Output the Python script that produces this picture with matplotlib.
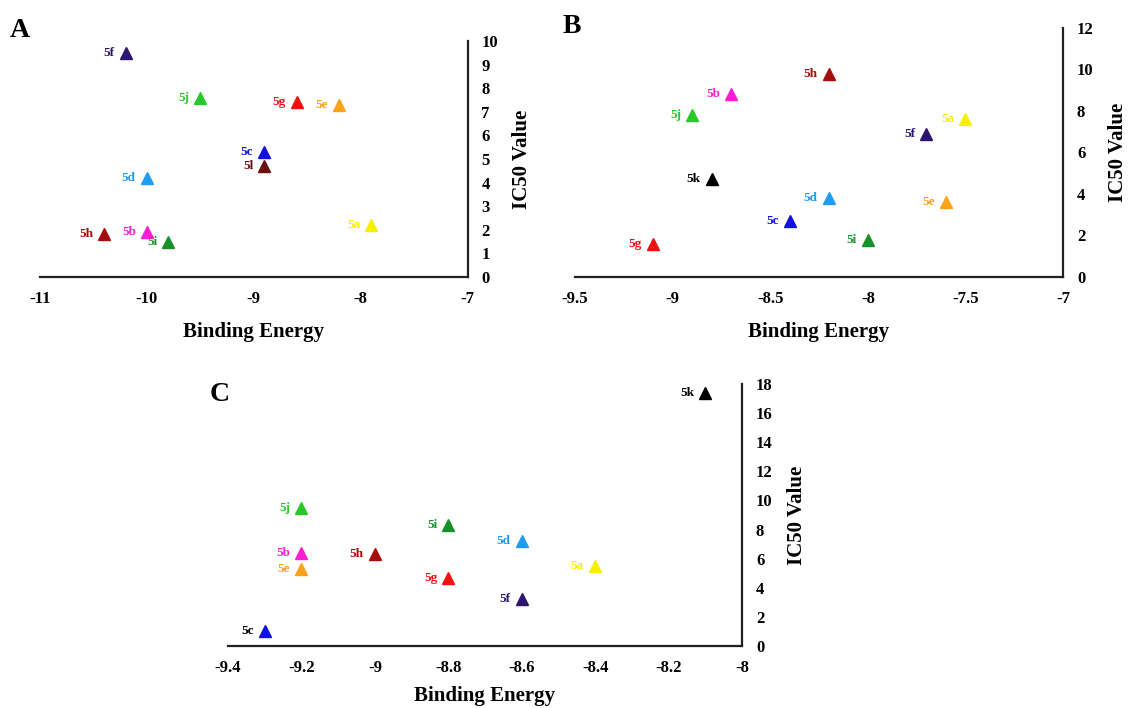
import matplotlib
matplotlib.use("Agg")
import matplotlib.pyplot as plt

plt.rcParams["font.family"] = ["Liberation Serif", "DejaVu Serif"]
plt.rcParams["font.weight"] = "bold"

# panel A
a_names = ["5f", "5j", "5g", "5e", "5c", "5l", "5d", "5h", "5b", "5i", "5a"]
a_energy = [-10.2, -9.5, -8.6, -8.2, -8.9, -8.9, -10.0, -10.4, -10.0, -9.8, -7.9]
a_ic50 = [9.5, 7.6, 7.4, 7.3, 5.3, 4.7, 4.2, 1.8, 1.9, 1.5, 2.2]

# panel B
b_names = ["5h", "5b", "5j", "5k", "5d", "5c", "5g", "5a", "5f", "5e", "5i"]
b_energy = [-8.2, -8.7, -8.9, -8.8, -8.2, -8.4, -9.1, -7.5, -7.7, -7.6, -8.0]
b_ic50 = [9.8, 8.8, 7.8, 4.7, 3.8, 2.7, 1.6, 7.6, 6.9, 3.6, 1.8]

# panel C
c_names = ["5k", "5j", "5i", "5b", "5h", "5e", "5g", "5d", "5a", "5f", "5c"]
c_energy = [-8.1, -9.2, -8.8, -9.2, -9.0, -9.2, -8.8, -8.6, -8.4, -8.6, -9.3]
c_ic50 = [17.4, 9.5, 8.3, 6.4, 6.3, 5.3, 4.7, 7.2, 5.5, 3.2, 1.0]

colors = {
    "5a": "#f7f000", "5b": "#ff1fd2", "5c": "#1010e0", "5d": "#1f9cf0",
    "5e": "#f9a21a", "5f": "#2c1470", "5g": "#f01010", "5h": "#a50d0d",
    "5i": "#17922a", "5j": "#28c828", "5k": "#000000", "5l": "#6a1010",
}


def panel(rect, names, xs, ys, xlim, xticks, ylim, yticks, letter, lpos,
          label_colors=None, xpad=11):
    ax = fig.add_axes(rect)
    for n, x, y in zip(names, xs, ys):
        ax.plot(x, y, marker="^", markersize=8.5, color=colors[n], linestyle="none")
        tc = colors[n]
        if label_colors and n in label_colors:
            tc = label_colors[n]
        ax.annotate(n, (x, y), xytext=(-8, 0), textcoords="offset points",
                    ha="right", va="center", fontsize=9.5, fontweight="bold",
                    color=tc)
    ax.set_xlim(xlim)
    ax.set_ylim(ylim)
    ax.set_xticks(xticks)
    ax.set_xticklabels(["%g" % t for t in xticks])
    ax.set_yticks(yticks)
    ax.yaxis.tick_right()
    ax.yaxis.set_label_position("right")
    for s in ["top", "left"]:
        ax.spines[s].set_visible(False)
    for s in ["bottom", "right"]:
        ax.spines[s].set_linewidth(1.6)
        ax.spines[s].set_color("#222222")
    ax.tick_params(axis="x", length=0, labelsize=12, pad=10)
    ax.tick_params(axis="y", length=0, labelsize=12, pad=10)
    for t in ax.get_xticklabels() + ax.get_yticklabels():
        t.set_fontweight("bold")
    ax.set_xlabel("Binding Energy", fontsize=15, fontweight="bold", labelpad=xpad)
    ax.set_ylabel("IC50 Value", fontsize=15, fontweight="bold", labelpad=10)
    fig.text(lpos[0], lpos[1], letter, fontsize=20, fontweight="bold",
             ha="left", va="center")
    return ax


fig = plt.figure(figsize=(11.31, 7.08), dpi=100)

panel([0.0354, 0.6088, 0.378, 0.3333], a_names, a_energy, a_ic50,
      (-11, -7), [-11, -10, -9, -8, -7], (0, 10), list(range(0, 11)),
      "A", (0.009, 0.957))
panel([0.5084, 0.6088, 0.4315, 0.3517], b_names, b_energy, b_ic50,
      (-9.5, -7), [-9.5, -9, -8.5, -8, -7.5, -7], (0, 12), list(range(0, 13, 2)),
      "B", (0.497, 0.962))
panel([0.2016, 0.0876, 0.4545, 0.370], c_names, c_energy, c_ic50,
      (-9.4, -8), [-9.4, -9.2, -9.0, -8.8, -8.6, -8.4, -8.2, -8.0], (0, 18),
      list(range(0, 19, 2)), "C", (0.185, 0.443), label_colors={"5c": "#000000"},
      xpad=7)

fig.savefig("out.png", dpi=100)
